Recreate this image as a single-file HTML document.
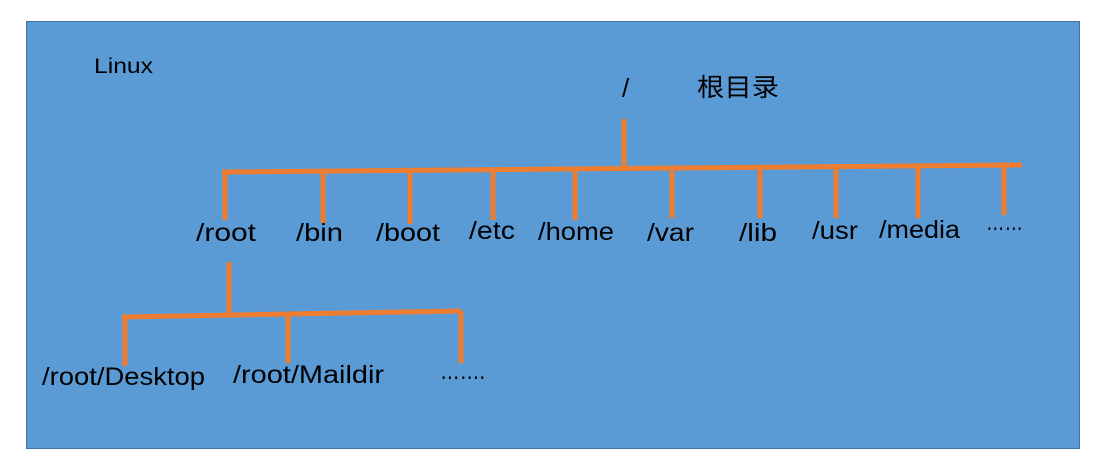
<!DOCTYPE html>
<html><head><meta charset="utf-8"><style>
html,body{margin:0;padding:0;background:#fff;width:1105px;height:471px;overflow:hidden}
text{font-family:"Liberation Sans","Noto Sans CJK SC",sans-serif;fill:#000}
</style></head><body>
<svg width="1105" height="471" xmlns="http://www.w3.org/2000/svg">
<rect x="26.5" y="21.5" width="1053" height="427" fill="#5b9bd5" stroke="#41719c" stroke-width="1"/>
<g stroke="#ed7d31" stroke-width="5" fill="none">
<line x1="624" y1="119" x2="624" y2="167"/>
<line x1="222" y1="172" x2="1022" y2="165"/>
<line x1="225" y1="170" x2="225" y2="220"/>
<line x1="323" y1="170" x2="323" y2="223"/>
<line x1="410" y1="169" x2="410" y2="224"/>
<line x1="493" y1="169" x2="493" y2="220"/>
<line x1="575" y1="168" x2="575" y2="220"/>
<line x1="672" y1="168" x2="672" y2="218"/>
<line x1="760" y1="167" x2="760" y2="218"/>
<line x1="836" y1="167" x2="836" y2="218"/>
<line x1="918" y1="166" x2="918" y2="218"/>
<line x1="1004" y1="166" x2="1004" y2="215"/>
<line x1="229" y1="262" x2="229" y2="314"/>
<line x1="122" y1="317" x2="461" y2="311"/>
<line x1="125" y1="316" x2="125" y2="366"/>
<line x1="288" y1="314" x2="288" y2="363"/>
<line x1="461" y1="311" x2="461" y2="363"/>
</g>
<text x="94" y="73" font-size="21" textLength="59" lengthAdjust="spacingAndGlyphs">Linux</text>
<text x="622" y="97" font-size="26">/</text>
<text x="697" y="96" font-size="25" textLength="82" lengthAdjust="spacingAndGlyphs">根目录</text>
<g font-size="25" lengthAdjust="spacingAndGlyphs">
<text x="196" y="241" textLength="60" lengthAdjust="spacingAndGlyphs">/root</text>
<text x="296" y="241" textLength="47" lengthAdjust="spacingAndGlyphs">/bin</text>
<text x="376" y="241" textLength="64" lengthAdjust="spacingAndGlyphs">/boot</text>
<text x="469" y="239" textLength="46" lengthAdjust="spacingAndGlyphs">/etc</text>
<text x="538" y="240" textLength="76" lengthAdjust="spacingAndGlyphs">/home</text>
<text x="647" y="241" textLength="47" lengthAdjust="spacingAndGlyphs">/var</text>
<text x="739" y="241" textLength="38" lengthAdjust="spacingAndGlyphs">/lib</text>
<text x="812" y="239" textLength="46" lengthAdjust="spacingAndGlyphs">/usr</text>
<text x="879" y="238" textLength="81" lengthAdjust="spacingAndGlyphs">/media</text>
<text x="986" y="230" textLength="37" lengthAdjust="spacingAndGlyphs">……</text>
<text x="42" y="385" textLength="163" lengthAdjust="spacingAndGlyphs">/root/Desktop</text>
<text x="233" y="383" textLength="151" lengthAdjust="spacingAndGlyphs">/root/Maildir</text>
<text x="440" y="379" textLength="45" lengthAdjust="spacingAndGlyphs">…….</text>
</g>
</svg>
</body></html>
